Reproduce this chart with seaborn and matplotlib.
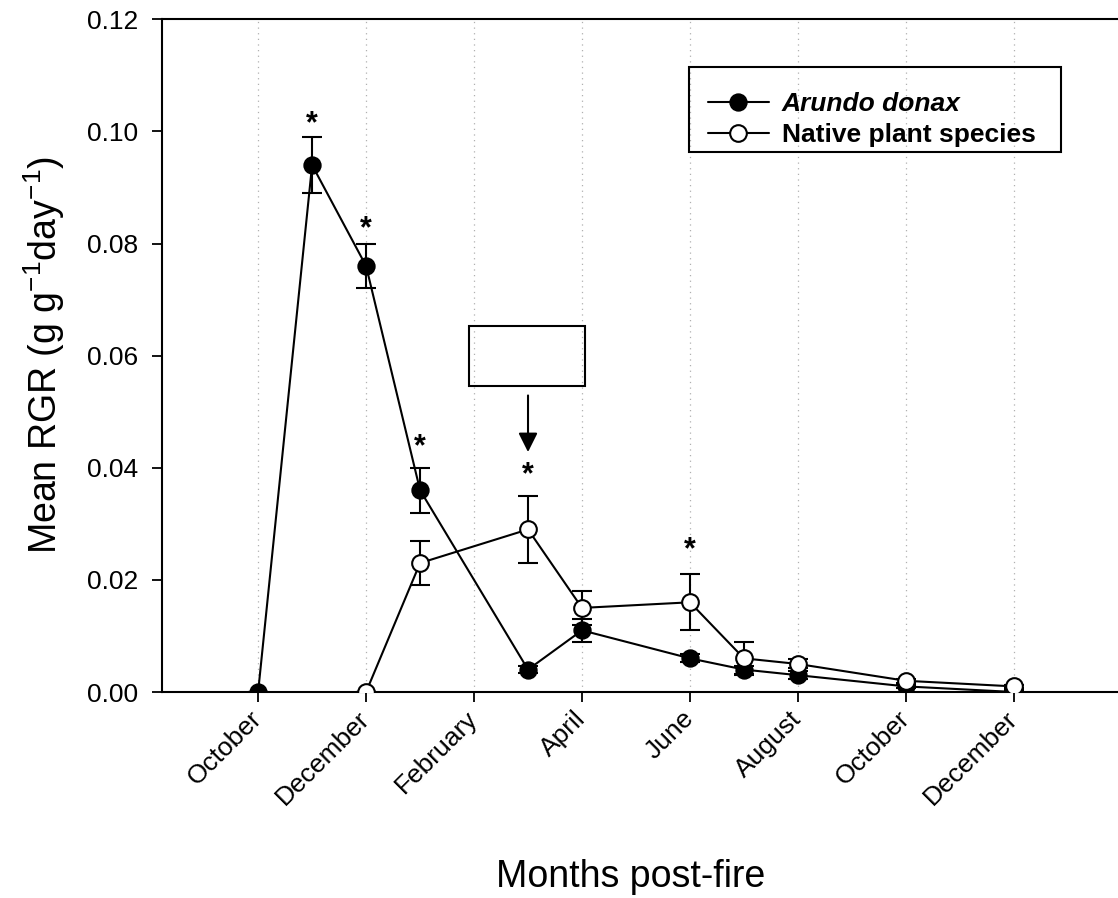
import matplotlib
matplotlib.use("Agg")
import matplotlib.pyplot as plt
import seaborn as sns
import pandas as pd
from matplotlib.patches import Rectangle

# ---- data (months post-fire, October = 0) ----
tick_pos = [0, 2, 4, 6, 8, 10, 12, 14]
tick_labels = ["October", "December", "February", "April", "June",
               "August", "October", "December"]

arundo_x = [0, 1, 2, 3, 5, 6, 8, 9, 10, 12, 14]
arundo_y = [0.0, 0.094, 0.076, 0.036, 0.004, 0.011, 0.006, 0.004, 0.003, 0.001, 0.0]
arundo_err = [0.0, 0.005, 0.004, 0.004, 0.0006, 0.002, 0.0007, 0.0007, 0.0007, 0.0003, 0.0003]

native_x = [2, 3, 5, 6, 8, 9, 10, 12, 14]
native_y = [0.0, 0.023, 0.029, 0.015, 0.016, 0.006, 0.005, 0.002, 0.001]
native_err = [0.0, 0.004, 0.006, 0.003, 0.005, 0.003, 0.0008, 0.0004, 0.0003]

star_x = [1, 2, 3, 5, 8]
star_y = [0.1013, 0.0826, 0.0437, 0.0386, 0.0253]

series_names = ["Arundo donax", "Native plant species"]

sns.set_style("white")
plt.rcParams["font.family"] = ["Liberation Sans", "DejaVu Sans"]
plt.rcParams["mathtext.fontset"] = "custom"
plt.rcParams["mathtext.rm"] = "Liberation Sans"
plt.rcParams["mathtext.it"] = "Liberation Sans:italic"
plt.rcParams["axes.unicode_minus"] = False
for k in ["text.color", "axes.labelcolor", "xtick.color", "ytick.color",
          "axes.edgecolor"]:
    plt.rcParams[k] = "black"

W, H = 1118, 898
fig = plt.figure(figsize=(W / 100, H / 100), dpi=100)
left_px, right_px, top_px, bot_px = 161.5, 1118, 19.3, 692
ax = fig.add_axes([left_px / W, (H - bot_px) / H, (right_px - left_px) / W,
                   (bot_px - top_px) / H])

df_a = pd.DataFrame({"x": arundo_x, "y": arundo_y})
df_n = pd.DataFrame({"x": native_x, "y": native_y})

lw = 1.5
ms = 12
# error bars (behind markers)
ax.errorbar(arundo_x, arundo_y, yerr=arundo_err, fmt="none", ecolor="black",
            elinewidth=lw, capsize=7.2, capthick=lw, zorder=2)
ax.errorbar(native_x, native_y, yerr=native_err, fmt="none", ecolor="black",
            elinewidth=lw, capsize=7.2, capthick=lw, zorder=2)

sns.lineplot(data=df_a, x="x", y="y", ax=ax, color="black", lw=lw, marker="o",
             markersize=ms, markerfacecolor="black", markeredgecolor="black",
             markeredgewidth=1.2, zorder=4, label=series_names[0])
sns.lineplot(data=df_n, x="x", y="y", ax=ax, color="black", lw=lw, marker="o",
             markersize=ms, markerfacecolor="white", markeredgecolor="black",
             markeredgewidth=1.5, zorder=5, label=series_names[1])

for sx, sy in zip(star_x, star_y):
    ax.text(sx, sy, "*", ha="center", va="center", fontsize=22, fontweight="bold",
            color="black", zorder=6)

# annotation box + arrow
ax.add_patch(Rectangle((3.90, 0.0546), 2.15, 0.0106, fill=False, edgecolor="black",
                       lw=1.5, zorder=6))
ax.annotate("", xy=(5, 0.0428), xytext=(5, 0.0529),
            arrowprops=dict(arrowstyle="-|>,head_length=0.58,head_width=0.29",
                            mutation_scale=20, color="black", lw=1.5,
                            shrinkA=0, shrinkB=0), zorder=6)

ax.set_xlim(-1.79, 15.93)
ax.set_ylim(0, 0.12)
ax.set_xticks(tick_pos)
ax.set_xticklabels(tick_labels)
ax.set_yticks([0.0, 0.02, 0.04, 0.06, 0.08, 0.10, 0.12])
ax.set_yticklabels(["0.00", "0.02", "0.04", "0.06", "0.08", "0.10", "0.12"])
ax.tick_params(axis="both", direction="out", length=7.5, width=1.3, color="black",
               labelcolor="black", labelsize=19, bottom=True, left=True)
ax.tick_params(axis="y", pad=9)
ax.tick_params(axis="x", pad=9)
plt.setp(ax.get_xticklabels(), rotation=45, ha="right", va="center",
         rotation_mode="anchor")

ax.grid(False)
for x in tick_pos:
    ax.axvline(x, color="#b0b0b0", lw=0.9, ls=(0, (1, 3.5)), zorder=0)

for s in ["left", "bottom", "top"]:
    ax.spines[s].set_visible(True)
    ax.spines[s].set_color("black")
    ax.spines[s].set_linewidth(1.5)
ax.spines["right"].set_visible(False)

ax.set_xlabel("")
ax.set_ylabel("")
fig.text(631 / W, (H - 887) / H, "Months post-fire", ha="center", va="baseline",
         fontsize=27, color="black")
fig.text(44 / W, (H - 355) / H,
         r"Mean RGR (g g$^{\mathregular{-1}}$day$^{\mathregular{-1}}$)",
         ha="center", va="center", rotation=90, fontsize=27, color="black")

# legend
ax0 = left_px
aw = right_px - left_px
ah = bot_px - top_px
ax.add_patch(Rectangle(((689 - ax0) / aw, (bot_px - 152) / ah),
                       (1061 - 689) / aw, (152 - 67.3) / ah,
                       transform=ax.transAxes, fill=False, edgecolor="black",
                       lw=1.5, zorder=7))
leg = ax.legend(loc="center left",
                bbox_to_anchor=((708 - ax0) / aw, (bot_px - 119.5) / ah),
                frameon=False, fontsize=19, handlelength=2.3, handletextpad=0.5,
                borderpad=0, borderaxespad=0, labelspacing=0.25)
for t in leg.get_texts():
    t.set_fontweight("bold")
    t.set_color("black")
leg.get_texts()[0].set_fontstyle("italic")

fig.savefig("out.png", dpi=100)
